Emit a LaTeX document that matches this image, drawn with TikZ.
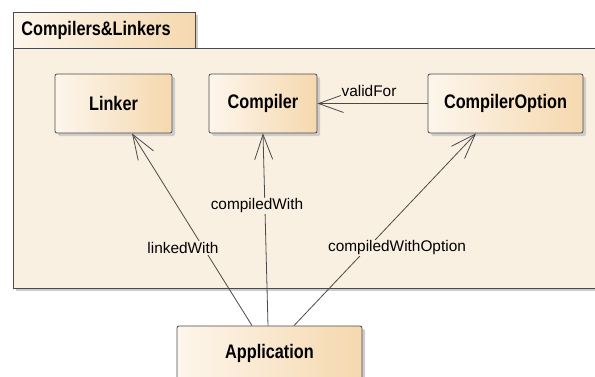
\documentclass[tikz,border=0pt]{standalone}
\usepackage{fontspec}
\setmainfont{Liberation Sans}
\newfontfamily\boxfont{Liberation Sans}[FakeStretch=0.83]
\usetikzlibrary{arrows.meta,shadows}
\definecolor{pkgfill}{HTML}{FAF0E2}
\definecolor{boxleft}{HTML}{FDF6EC}
\definecolor{boxright}{HTML}{F5D8AE}
\definecolor{edgegray}{HTML}{4A4A4A}
\definecolor{shadowgray}{HTML}{CDCDCD}
\tikzset{
	classbox/.style={draw=edgegray, line width=0.8pt, rounded corners=2pt, left color=boxleft, right color=boxright, minimum height=59pt, inner sep=0pt, font=\boxfont\bfseries\fontsize{19.6}{21}\selectfont, drop shadow={shadow xshift=3pt, shadow yshift=-3pt, fill=shadowgray, opacity=1}},
	assoc/.style={draw=edgegray, line width=0.8pt, -{Straight Barb[length=25pt,width=18pt]}},
	rolelabel/.style={fill=pkgfill, inner sep=1pt, font=\fontsize{15.4}{17}\selectfont}
}

\begin{document}
\begin{tikzpicture}[x=1pt, y=-1pt]
			\useasboundingbox (0,0) rectangle (595,376);
			\clip (0,0) rectangle (595,376);
			\fill[white] (0,0) rectangle (595,376);
			\fill[shadowgray] (16,15) rectangle (198,48);
			\fill[shadowgray] (16,51) rectangle (603,291);
			\draw[draw=edgegray, line width=0.8pt, fill=pkgfill] (13,48) rectangle (600,288);
			\node[draw=edgegray, line width=0.8pt, left color=boxleft, right color=boxright, anchor=north west, minimum width=182pt, minimum height=36pt, inner sep=0pt, font=\boxfont\bfseries\fontsize{19.6}{21}\selectfont] (pkgtab) at (13,12) {\makebox[166pt][l]{Compilers\&Linkers}};
			\node[classbox, minimum width=117pt] (linker) at (113.5,103.5) {Linker};
			\node[classbox, minimum width=108pt] (compiler) at (263,103.5) {Compiler};
			\node[classbox, minimum width=155pt] (option) at (505.5,103.5) {CompilerOption};
			\node[classbox, minimum width=185pt, minimum height=54pt] (app) at (269.5,353) {Application};
			\draw[assoc] (option.west) -- (compiler.east);
			\draw[assoc] ([xshift=-17.5pt]app.north) -- ([xshift=18.5pt]linker.south);
			\draw[assoc] ([xshift=-1.5pt]app.north) -- (compiler.south);
			\draw[assoc] ([xshift=24.5pt]app.north) -- ([xshift=-29.5pt]option.south);
			\node[rolelabel] (validfor) at (369,91) {validFor};
			\node[rolelabel] (linkedwith) at (183,248) {linkedWith};
			\node[rolelabel] (compiledwith) at (257,206) {compiledWith};
			\node[rolelabel] (withoption) at (397,248) {compiledWithOption};
		\end{tikzpicture}
\end{document}
